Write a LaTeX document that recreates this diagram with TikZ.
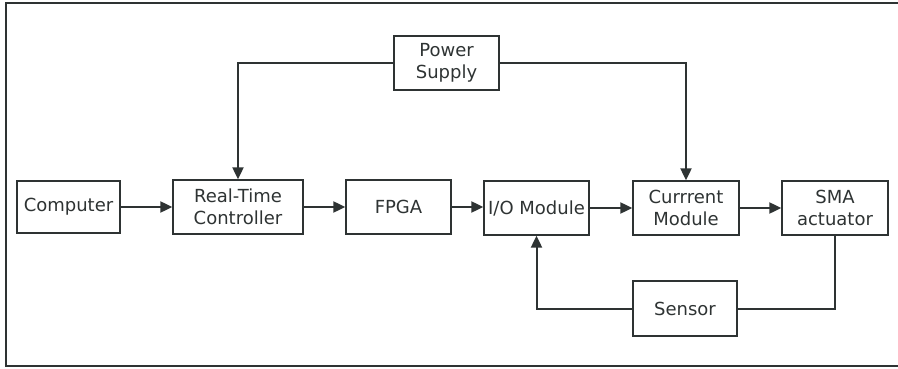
\documentclass[tikz,border=0pt]{standalone}
\usepackage{fontspec}
\setmainfont{DejaVu Sans}
\usetikzlibrary{arrows.meta}
\definecolor{ink}{HTML}{2E3333}
\begin{document}
\begin{tikzpicture}[x=1pt,y=-1pt,
  blk/.style={draw=ink,line width=1.3pt,inner sep=0pt,align=center,text=ink,
    font=\fontsize{18}{22}\selectfont,minimum height=54pt},
  conn/.style={draw=ink,line width=2pt,-{Triangle[length=12pt,width=11pt]}},
  wire/.style={draw=ink,line width=2pt}]
\useasboundingbox (0,0) rectangle (898,369);
\draw[ink,line width=2pt] (898,3) -- (6,3) -- (6,366) -- (898,366);
\node[blk,minimum width=105pt] (ps) at (446.5,63) {Power\\Supply};
\node[blk,minimum width=103pt,minimum height=52pt] (pc) at (68.5,207) {Computer};
\node[blk,minimum width=130pt] (rtc) at (238,207) {Real-Time\\Controller};
\node[blk,minimum width=105pt] (fpga) at (398.5,207) {FPGA};
\node[blk,minimum width=105pt] (io) at (536.5,208) {I/O Module};
\node[blk,minimum width=106pt] (cur) at (686,208) {Currrent\\Module};
\node[blk,minimum width=106pt] (sma) at (835,208) {SMA\\actuator};
\node[blk,minimum width=104pt,minimum height=55pt] (sen) at (685,308.5) {Sensor};
\draw[conn] (ps.west) -| (rtc.north);
\draw[conn] (ps.east) -| (cur.north);
\draw[conn] (pc.east) -- (rtc.west);
\draw[conn] (rtc.east) -- (fpga.west);
\draw[conn] (fpga.east) -- (fpga.east -| io.west);
\draw[conn] (io.east) -- (cur.west);
\draw[conn] (cur.east) -- (sma.west);
\draw[wire] (sma.south) |- (sen.east);
\draw[conn] (sen.west) -| (io.south);
\end{tikzpicture}
\end{document}
